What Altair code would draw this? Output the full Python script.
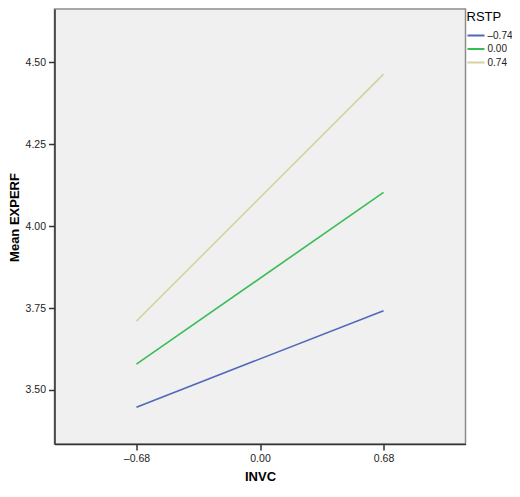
import altair as alt
import pandas as pd

# Data
invc_levels = [-0.68, 0.68]
rstp_labels = ["\u20130.74", "0.00", "0.74"]
series_blue = [3.4475, 3.742]    # RSTP = -0.74
series_green = [3.579, 4.103]    # RSTP = 0.00
series_beige = [3.710, 4.464]    # RSTP = 0.74
x_ticks = [-0.68, 0.0, 0.68]
x_tick_labels = ["\u20130.68", "0.00", "0.68"]
y_ticks = [3.50, 3.75, 4.00, 4.25, 4.50]
colors = ["#5167B8", "#38BD54", "#D6D19E"]

rows = []
for lab, ser in zip(rstp_labels, [series_blue, series_green, series_beige]):
    for xv, yv in zip(invc_levels, ser):
        rows.append({"INVC": xv, "EXPERF": yv, "RSTP": lab})
df = pd.DataFrame(rows)

label_expr = " : ".join(
    [f"abs(datum.value - ({v})) < 0.001 ? '{t}'" for v, t in zip(x_ticks, x_tick_labels)]
) + " : ''"

FONT = "Liberation Sans"

chart = alt.Chart(df).mark_line(strokeWidth=1.6).encode(
    x=alt.X("INVC:Q",
            scale=alt.Scale(domain=[-1.131, 1.131], nice=False, zero=False),
            axis=alt.Axis(values=x_ticks, labelExpr=label_expr, title="INVC",
                          grid=False, tickSize=6, labelPadding=3,
                          titleY=32, titleBaseline="middle")),
    y=alt.Y("EXPERF:Q",
            scale=alt.Scale(domain=[3.335, 4.663], nice=False, zero=False),
            axis=alt.Axis(values=y_ticks, format=".2f", title="Mean EXPERF",
                          grid=False, tickSize=6, labelPadding=3,
                          titleX=-40, titleY=208, titleAngle=270,
                          titleAlign="center", titleBaseline="middle")),
    color=alt.Color("RSTP:N",
                    scale=alt.Scale(domain=rstp_labels, range=colors),
                    sort=rstp_labels,
                    legend=alt.Legend(title="RSTP", orient="none",
                                      legendX=412, legendY=2,
                                      symbolType="stroke", symbolSize=289,
                                      symbolStrokeWidth=1.8, clipHeight=13,
                                      rowPadding=0.5, labelOffset=2,
                                      titlePadding=5, padding=0)),
).properties(
    width=411, height=435,
    autosize=alt.AutoSizeParams(type="none"),
    padding={"left": 46.5, "top": 1, "right": 46.5, "bottom": 40},
).configure_view(
    fill="#F0F0F0", stroke="#8c8c8c", strokeWidth=1.5,
).configure_axis(
    domainColor="#333333", domainWidth=1.5, tickColor="#333333", tickWidth=1.5,
    labelFont=FONT, labelFontSize=10.5, labelColor="#222222",
    titleFont=FONT, titleFontSize=13, titleFontWeight="bold", titleColor="#000000",
).configure_legend(
    titleFont=FONT, titleFontSize=13, titleFontWeight="normal", titleColor="#000000",
    labelFont=FONT, labelFontSize=10, labelColor="#222222",
)

chart.save("out.html", embed_options={"renderer": "svg", "actions": False})
